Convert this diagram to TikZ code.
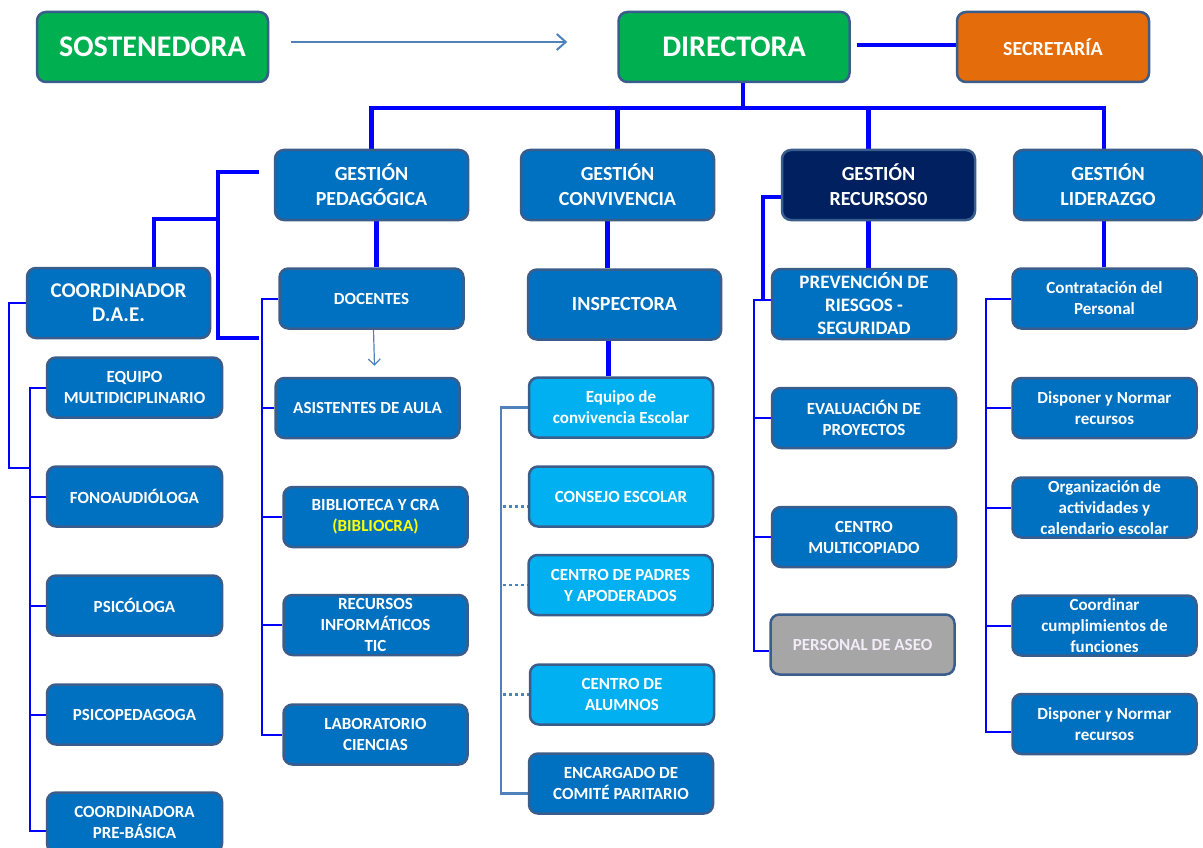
\documentclass[tikz,border=0pt]{standalone}
\usepackage{fontspec}
\setmainfont{Carlito}
\usetikzlibrary{arrows.meta, backgrounds, positioning}

\definecolor{boxblue}{HTML}{0070C0}
\definecolor{boxborder}{HTML}{3A5D8C}
\definecolor{orgGreen}{HTML}{00B050}
\definecolor{orgOrange}{HTML}{E46C0A}
\definecolor{navy}{HTML}{002060}
\definecolor{lightblue}{HTML}{00B0F0}
\definecolor{aseogray}{HTML}{A6A6A6}
\definecolor{aseotext}{HTML}{F2ECF8}
\definecolor{linkblue}{HTML}{0000FF}
\definecolor{steel}{HTML}{4F81BD}
\definecolor{biblioyellow}{HTML}{FFFF00}

\tikzset{
  box/.style={draw=boxborder, line width=2.5pt, rounded corners=9pt, fill=boxblue,
    text=white, align=center, inner sep=0pt, font=\bfseries},
  topbox/.style={box, fill=orgGreen, minimum width=231pt, minimum height=70pt,
    font=\bfseries\fontsize{30}{34}\selectfont},
  gbox/.style={box, minimum width=193pt, minimum height=70pt,
    font=\bfseries\fontsize{20}{25}\selectfont},
  smallbox/.style={box, minimum width=184pt, minimum height=60pt,
    font=\bfseries\fontsize{17}{21}\selectfont},
  bus/.style={draw=linkblue, line width=4.5pt},
  thinlink/.style={draw=linkblue, line width=2pt},
  steellink/.style={draw=steel, line width=2.5pt},
  dotlink/.style={draw=steel, line width=2.5pt, dash pattern=on 3pt off 3pt},
}

\begin{document}
\begin{tikzpicture}[x=1pt, y=-1pt]
  \useasboundingbox (0,0) rectangle (1203,848);

  % top row
  \node[topbox] (sost) at (152.5,47) {SOSTENEDORA};
  \node[topbox] (dir) at (734,47) {DIRECTORA};
  \node[box, fill=orgOrange, minimum width=192pt, minimum height=70pt,
    font=\bfseries\fontsize{20}{24}\selectfont] (sec) at (1053,47) {SECRETARÍA};

  % gestion row
  \node[gbox] (pedag) at (371.5,185) {GESTIÓN\\PEDAGÓGICA};
  \node[gbox] (conv) at (617.5,185) {GESTIÓN\\CONVIVENCIA};
  \node[gbox, fill=navy] (rec) at (878.5,185) {GESTIÓN\\RECURSOS0};
  \node[gbox, minimum width=188pt] (lid) at (1108,185) {GESTIÓN\\LIDERAZGO};

  % second row
  \node[box, minimum width=183pt, minimum height=70pt,
    font=\bfseries\fontsize{21}{24}\selectfont] (dae) at (118.5,303) {COORDINADOR\\D.A.E.};
  \node[smallbox] (doc) at (371.5,298.5) {DOCENTES};
  \node[gbox] (insp) at (624.5,304.5) {INSPECTORA};
  \node[smallbox, minimum height=70pt, font=\bfseries\fontsize{19}{23}\selectfont]
    (prev) at (864,304) {PREVENCIÓN DE\\RIESGOS -\\SEGURIDAD};
  \node[smallbox] (contr) at (1104.5,298.5) {Contratación del\\Personal};

  % D.A.E. team
  \foreach \n/\y/\t in {equip/387.5/{EQUIPO\\MULTIDICIPLINARIO}, fono/496.5/FONOAUDIÓLOGA,
      psic/605.5/PSICÓLOGA, psicop/714.5/PSICOPEDAGOGA, coordpb/822.5/{COORDINADORA\\PRE-BÁSICA}} {
      \node[smallbox, minimum width=175pt] (\n) at (134.5,\y) {\t};
    }

  % pedagogica
  \node[smallbox] (asis) at (367.5,408) {ASISTENTES DE AULA};
  \node[smallbox] (bib) at (375.5,517) {BIBLIOTECA Y CRA\\\textcolor{biblioyellow}{(BIBLIOCRA)}};
  \node[smallbox] (tic) at (375.5,625) {RECURSOS\\INFORMÁTICOS\\TIC};
  \node[smallbox] (lab) at (375.5,734.5) {LABORATORIO\\CIENCIAS};

  % convivencia
  \node[smallbox, fill=lightblue] (eq) at (621,407.5) {Equipo de\\convivencia Escolar};
  \node[smallbox, fill=lightblue] (cons) at (621,496.5) {CONSEJO ESCOLAR};
  \node[smallbox, fill=lightblue] (padres) at (620.5,585) {CENTRO DE PADRES\\Y APODERADOS};
  \node[smallbox, fill=lightblue] (alum) at (622,694.5) {CENTRO DE\\ALUMNOS};
  \node[smallbox] (enc) at (621,783.5) {ENCARGADO DE\\COMITÉ PARITARIO};

  % recursos
  \node[smallbox] (eval) at (864,418) {EVALUACIÓN DE\\PROYECTOS};
  \node[smallbox] (multi) at (864,537) {CENTRO\\MULTICOPIADO};
  \node[smallbox, fill=aseogray, text=aseotext] (aseo) at (862.5,644.5) {PERSONAL DE ASEO};

  % liderazgo
  \node[smallbox] (disp1) at (1104.5,408) {Disponer y Normar\\recursos};
  \node[smallbox] (org) at (1104.5,507.5) {Organización de\\actividades y\\calendario escolar};
  \node[smallbox] (coordf) at (1104.5,625.5) {Coordinar\\cumplimientos de\\funciones};
  \node[smallbox] (disp2) at (1104.5,724) {Disponer y Normar\\recursos};

  \begin{scope}[on background layer]
    % top links
    \draw[steellink, line width=2pt, -{Straight Barb[length=9pt,width=16pt]}]
      ([xshift=22pt,yshift=5pt]sost.east) -- ([xshift=-50pt,yshift=5pt]dir.west);
    \draw[bus] ([xshift=6pt,yshift=2pt]dir.east) -- ([yshift=2pt]sec.west);

    % bus
    \coordinate (hub) at (743,108);
    \draw[bus] ([xshift=9pt]dir.south) -- (hub);
    \draw[bus] (pedag.north) |- (hub) -| ([xshift=-4pt]lid.north);
    \draw[bus] (conv.north) -- (conv.north |- hub);
    \draw[bus] ([xshift=-10pt]rec.north) -- ([xshift=-10pt]rec.north |- hub);

    % gestion to second row
    \draw[bus] ([xshift=-15pt,yshift=13pt]pedag.west) -- ++(-41,0) coordinate (pk) -- ++(0,166) -- ++(41,0);
    \draw[bus] (pk) ++(0,47) -- ++(-64,0) -- ++(0,49);
    \draw[bus] ([xshift=5pt]pedag.south) -- ([xshift=5pt]pedag.south |- doc.north);
    \draw[bus] ([xshift=-10pt]conv.south) -- ([xshift=-10pt]conv.south |- insp.north);
    \draw[bus] ([xshift=-16pt]insp.south) -- ([xshift=-16pt]insp.south |- eq.north);
    \draw[bus] ([xshift=-10pt]rec.south) -- ([xshift=-10pt]rec.south |- prev.north);
    \draw[bus] ([yshift=-12pt]rec.west) -| ([xshift=-8pt,yshift=4pt]prev.west);
    \draw[bus] ([xshift=-4pt]lid.south) -- ([xshift=-4pt]lid.south |- contr.north);

    % D.A.E. trunk
    \coordinate (daeT) at (30,0);
    \draw[thinlink] (dae.west) -| ++(-17,165) -- ++(20,0);
    \draw[thinlink] (equip.west) -- (equip.west -| daeT) -- ([yshift=-8pt]coordpb.west -| daeT) -- ([yshift=-8pt]coordpb.west);
    \foreach \n in {fono, psic, psicop} {
        \draw[thinlink] (\n.west -| daeT) -- (\n.west);
      }

    % docentes trunk
    \coordinate (pedT) at (262,0);
    \draw[thinlink] (doc.west) -- (doc.west -| pedT) -- (lab.west -| pedT) -- (lab.west);
    \foreach \n in {asis, bib, tic} {
        \draw[thinlink] (\n.west -| pedT) -- (\n.west);
      }
    \draw[steellink, line width=1.2pt, -{Straight Barb[length=6pt,width=12pt]}]
      ([xshift=2pt]doc.south) -- ([xshift=7pt,yshift=11pt]asis.north);

    % convivencia trunk
    \coordinate (convT) at (501,0);
    \draw[steellink] (eq.west) -- (eq.west -| convT) -- ([yshift=-10pt]enc.west -| convT) -- ([yshift=-10pt]enc.west);
    \draw[dotlink] ([xshift=2pt,yshift=-10pt]cons.west -| convT) -- ([yshift=-10pt]cons.west);
    \foreach \n in {padres, alum} {
        \draw[dotlink] ([xshift=2pt]\n.west -| convT) -- (\n.west);
      }

    % recursos trunk
    \coordinate (recT) at (754,0);
    \draw[thinlink] ([yshift=4pt]prev.west) -- ([yshift=4pt]prev.west -| recT) -- ([yshift=-6pt]aseo.west -| recT) -- ([yshift=-6pt]aseo.west);
    \foreach \n in {eval, multi} {
        \draw[thinlink] (\n.west -| recT) -- (\n.west);
      }

    % liderazgo trunk
    \coordinate (lidT) at (986,0);
    \draw[thinlink] (contr.west) -- (contr.west -| lidT) -- ([yshift=-8pt]disp2.west -| lidT) -- ([yshift=-8pt]disp2.west);
    \foreach \n in {disp1, org, coordf} {
        \draw[thinlink] (\n.west -| lidT) -- (\n.west);
      }
  \end{scope}
\end{tikzpicture}
\end{document}
